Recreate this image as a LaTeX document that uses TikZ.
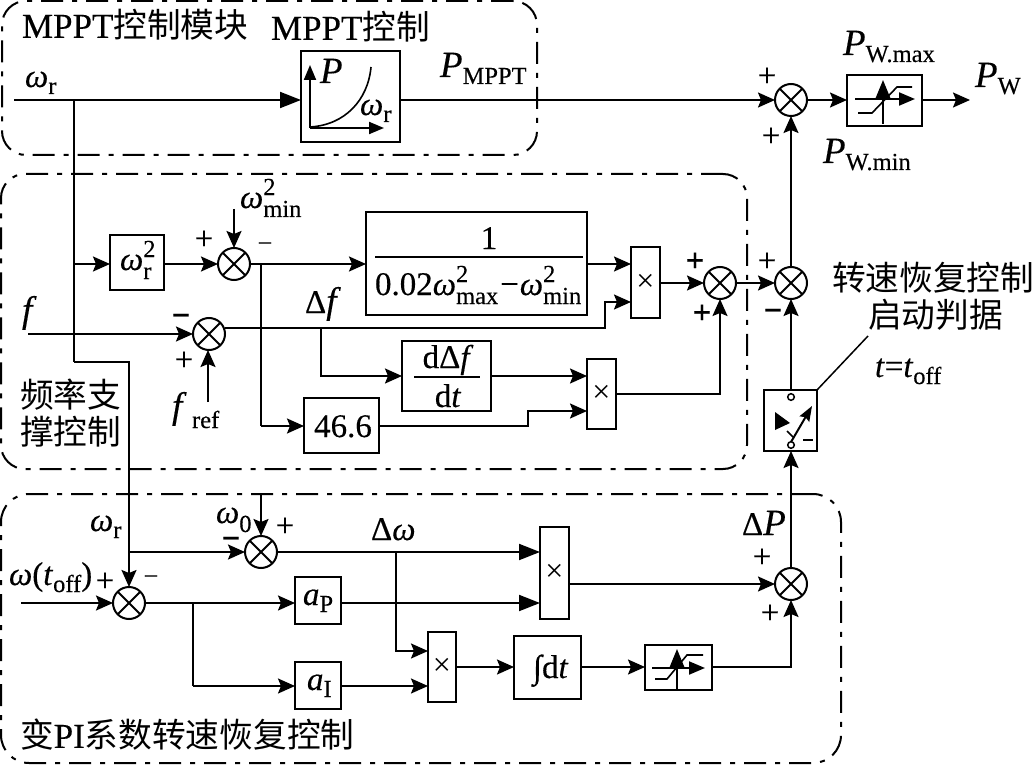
\documentclass[tikz,border=0pt]{standalone}
\usepackage{fontspec}
\setmainfont[FakeBold=0.3]{Liberation Serif}
\newfontfamily\cjk{Noto Sans CJK SC}
\newfontfamily\latn[FakeBold=0.3]{Liberation Serif}
\newfontfamily\plainserif{Liberation Serif}
\usetikzlibrary{arrows.meta,calc}
\newcommand\subsz{\fontsize{24.5}{24.5}\selectfont}
\newcommand\lowr[1]{\raisebox{-7pt}{\subsz #1}}
\newcommand\lowrup[2]{\rlap{\raisebox{13pt}{\subsz #1}}\raisebox{-9pt}{\subsz #2}}
\newcommand\omg{\textit{ω}}
\newcommand\Pv{{\fontsize{37}{37}\selectfont\textit{P}}}
\newcommand\fv{{\fontsize{37}{37}\selectfont\textit{f}}}
\newcommand\capsz[1]{{\fontsize{35}{35}\selectfont\latn #1}}
% block given by its corners
\newcommand\blk[6][]{%
  \pgfmathsetmacro\bw{#5-#3}\pgfmathsetmacro\bh{#6-#4}%
  \pgfmathsetmacro\bx{(#3+#5)/2}\pgfmathsetmacro\by{(#4+#6)/2}%
  \node[blockbox,minimum width=\bw pt,minimum height=\bh pt,#1] (#2) at (\bx,\by) {};}
\newcommand\txtat[4]{\node[txtbase] (#1) at (#2,#3) {#4};}
\newcommand\signat[4]{\node[signmark] (#1) at (#2,#3) {#4};}
\tikzset{
  x=1pt,y=-1pt,
  every node/.style={font=\fontsize{33}{33}\selectfont,inner sep=0pt,outer sep=0pt},
  blockbox/.style={draw,line width=2pt,rectangle},
  txtbase/.style={anchor=base west},
  signmark/.style={anchor=center},
  cjkline/.style={anchor=west,font=\fontsize{33.7}{33.7}\selectfont\cjk},
  timesbox/.style={font=\fontsize{32}{32}\selectfont\plainserif},
  region/.style={line width=2pt,dash pattern=on 22pt off 9pt on 5pt off 9pt},
  wire/.style={line width=2pt},
  flow/.style={wire,-{Stealth[length=17pt,width=15pt,inset=3pt]}},
  flowB/.style={wire,-{Stealth[length=21pt,width=16pt,inset=0pt]}},
  sumj/.style={circle,draw,line width=2pt,minimum size=32pt,
    path picture={\draw[line width=2pt]
      (path picture bounding box.north west)--(path picture bounding box.south east)
      (path picture bounding box.north east)--(path picture bounding box.south west);}},
}
\begin{document}
\begin{tikzpicture}
\useasboundingbox (0,0) rectangle (1035,767);

% dash-dotted regions
\blk[region,rounded corners=24pt]{regMppt}{2}{1}{537}{155}
\blk[region,rounded corners=24pt]{regFreq}{1}{174}{747}{469}
\blk[region,rounded corners=28pt]{regPi}{1}{494}{841}{763}

% blocks
\blk{curve}{301}{51}{400}{142}
\blk{limTop}{847}{75}{922}{126}
\blk{sq}{110}{235}{164}{290}
\blk{gain}{366}{212}{587}{315}
\blk{mulA}{631}{247}{660}{318}
\blk{deriv}{402}{341}{491}{411}
\blk{mulB}{587}{359}{616}{429}
\blk{coef}{304}{398}{379}{453}
\blk{switch}{764}{390}{817}{451}
\blk{mulC}{540}{527}{569}{619}
\blk{kp}{295}{577}{341}{624}
\blk{ki}{295}{662}{341}{709}
\blk{mulD}{428}{632}{456}{702}
\blk{integ}{514}{636}{581}{699}
\blk{limLow}{645}{645}{712}{690}

% summing junctions
\node[sumj] (sOut) at (791,100) {};
\node[sumj] (sErr) at (234,264) {};
\node[sumj] (sF) at (209,334) {};
\node[sumj] (sFreq) at (720,283) {};
\node[sumj] (sMid) at (791,283) {};
\node[sumj] (sW) at (261,552) {};
\node[sumj] (sTrk) at (129,603) {};
\node[sumj] (sDp) at (791,584) {};

% free ends and branch points
\coordinate (inW) at (14,100);
\coordinate (jW) at (74,100);
\coordinate (jTurn) at (74,362);
\coordinate (jSq) at (74,264);
\coordinate (jR) at (129,552);
\coordinate (outW) at (970,100);
\coordinate (minIn) at (234,209);
\coordinate (jMin) at (261,264);
\coordinate (jCoef) at (261,426);
\coordinate (inF) at (28,334);
\coordinate (fRef) at (208,402);
\coordinate (dfStart) at (225,328);
\coordinate (dfElbow) at (605,328);
\coordinate (dfTop) at (605,302);
\coordinate (jDf) at (321,328);
\coordinate (jDfLow) at (321,376);
\coordinate (cfElbow) at (528,426);
\coordinate (cfTop) at (528,411);
\coordinate (w0In) at (261,495);
\coordinate (inToff) at (21,603);
\coordinate (jTrk) at (193,603);
\coordinate (jKi) at (193,686);
\coordinate (jDw) at (396,552);
\coordinate (jDwLow) at (396,651);
\coordinate (intCorner) at (791,667);
\coordinate (leaderEnd) at (868,336);
\coordinate (coefBase) at (343,437);

% connectors of the speed path and the MPPT path
\draw[flowB] (inW) -- (inW -| curve.west);
\draw[flow] (curve.east |- inW) -- (sOut.west);
\draw[flow] (sOut.east) -- (limTop.west |- sOut);
\draw[flow] (limTop.east |- sOut) -- (outW);
\draw[wire] (jW) -- (jTurn);
\draw[flow] (jTurn) -- (jTurn -| sTrk) -- (sTrk.north);
\draw[flow] (sMid.north) -- (sOut.south);

% frequency support
\draw[flow] (jSq) -- (jSq -| sq.west);
\draw[flow] (sq.east |- jSq) -- (sErr.west);
\draw[flow] (minIn) -- (sErr.north);
\draw[flow] (sErr.east) -- (sErr -| gain.west);
\draw[wire] (jMin) -- (jCoef);
\draw[flow] (jCoef) -- (jCoef -| coef.west);
\draw[flow] (inF) -- (sF.west);
\draw[flow] (fRef) -- (fRef |- sF.south);
\draw[flow] (dfStart) -- (dfElbow) -- (dfTop) -- (dfTop -| mulA.west);
\draw[flow] (gain.east |- sErr) -- (sErr -| mulA.west);
\draw[flow] (jDf) -- (jDfLow) -- (jDfLow -| deriv.west);
\draw[flow] (deriv.east |- jDfLow) -- (jDfLow -| mulB.west);
\draw[flow] (jCoef -| coef.east) -- (cfElbow) -- (cfTop) -- (cfTop -| mulB.west);
\draw[flow] (mulA.east |- sFreq) -- (sFreq.west);
\draw[flow] (sFreq.east) -- (sMid.west);
\draw[flow] (mulB.east) -- (mulB.east -| sFreq) -- (sFreq.south);
\draw[flow] (switch.north -| sMid) -- (sMid.south);
\draw[flow] (sDp.north) -- (switch.south -| sDp);
\draw[wire,line width=1.5pt] (switch.north east) -- (leaderEnd);

% variable PI speed recovery
\draw[flow] (jR) -- (sW.west);
\draw[flow] (w0In) -- (sW.north);
\draw[flowB] (sW.east) -- (sW -| mulC.west);
\draw[flow] (inToff) -- (sTrk.west);
\draw[flow] (sTrk.east) -- (kp.west |- sTrk);
\draw[flowB] (kp.east |- sTrk) -- (sTrk -| mulC.west);
\draw[wire] (jTrk) -- (jKi);
\draw[flow] (jKi) -- (jKi -| ki.west);
\draw[flow] (ki.east |- jKi) -- (jKi -| mulD.west);
\draw[flow] (jDw) -- (jDwLow) -- (jDwLow -| mulD.west);
\draw[flow] (mulD.east |- intCorner) -- (intCorner -| integ.west);
\draw[flow] (integ.east |- intCorner) -- (intCorner -| limLow.west);
\draw[flow] (limLow.east |- intCorner) -- (intCorner) -- (sDp.south);
\draw[flow] (sDp -| mulC.east) -- (sDp.west);

% power curve icon
\draw[wire,-{Stealth[length=15pt,width=12pt,inset=0pt]}] (310,128) -- (310,65);
\draw[wire,-{Stealth[length=15pt,width=12pt,inset=0pt]}] (310,128) -- (384,128);
\draw[line width=1.6pt] (310,127) .. controls (345,125) and (368,100) .. (371,67);

% limiter icons
\draw[wire,-{Stealth[length=16pt,width=13pt,inset=0pt]}] (855,99) -- (915,99);
\draw[wire,-{Stealth[length=19pt,width=15pt,inset=0pt]}] (883,124) -- (883,80);
\draw[line width=1.6pt] (858,113) -- (872,113) -- (897,87) -- (912,87);
\draw[wire,-{Stealth[length=16pt,width=13pt,inset=0pt]}] (652,668) -- (705,668);
\draw[wire,-{Stealth[length=19pt,width=15pt,inset=0pt]}] (677,690) -- (677,649);
\draw[line width=1.6pt] (655,679) -- (667,679) -- (687,655) -- (703,655);

% switch icon
\draw[line width=1.5pt,fill=white] (791,397) circle (3.3);
\draw[line width=1.5pt,fill=white] (791,445) circle (3.3);
\fill (775,412) -- (790,423) -- (775,430) -- cycle;
\draw[wire,-{Stealth[length=15pt,width=11pt,inset=2pt]}] (791,442) -- (812,406);
\draw[line width=1.5pt] (787,431) -- (793,437);
\draw[line width=1.5pt] (803,440) -- (813,440);

% fraction bars
\draw[wire] (375,257) -- (583,257);
\draw[wire] (414,377) -- (480,377);

% multiplier marks
\node[timesbox] (tA) at (mulA) {×};
\node[timesbox] (tB) at (mulB) {×};
\node[timesbox] (tC) at (mulC) {×};
\node[timesbox] (tD) at (mulD) {×};

% Chinese captions
\node[cjkline] (capA) at (22,25) {\capsz{MPPT}控制模块};
\node[cjkline] (capB) at (271,27) {\capsz{MPPT}控制};
\node[cjkline] (capC) at (20,395) {频率支};
\node[cjkline] (capD) at (20,432) {撑控制};
\node[cjkline] (capE) at (832,278) {转速恢复控制};
\node[cjkline] (capF) at (868,315) {启动判据};
\node[cjkline] (capG) at (20,735) {变\capsz{PI}系数转速恢复控制};

% signal labels
\txtat{lWr}{25}{87}{\omg\lowr{r}}
\txtat{lPm}{440}{77}{\Pv\lowr{MPPT}}
\txtat{lCp}{320}{83}{\Pv}
\txtat{lCw}{360}{115}{\omg\lowr{r}}
\txtat{lPmax}{843}{55}{\Pv\lowr{W.max}}
\txtat{lPw}{975}{87}{\Pv\lowr{W}}
\txtat{lPmin}{823}{163}{\Pv\lowr{W.min}}
\txtat{lWmin}{240}{208}{\omg\lowrup{2}{min}}
\txtat{lSq}{120}{270}{\omg\lowrup{2}{r}}
\txtat{lF}{22}{322}{\fv}
\txtat{lFr}{172}{418}{\fv\,\raisebox{-10pt}{\subsz ref}}
\txtat{lDf}{305}{313}{Δ\fv}
\node[anchor=base] (lDdf) at (448,368) {dΔ\textit{f}};
\node[anchor=base] (lDt) at (448,407) {d\textit{t}};
\node[anchor=base] (lOne) at (489,249) {1};
\txtat{lDen}{375}{295}{0.02\omg\lowrup{2}{max}\hspace{2pt}−\hspace{1pt}\omg\lowrup{2}{min}}
\node[anchor=base] (lCoef) at (coefBase) {46.6};
\txtat{lTon}{875}{377}{\textit{t}=\textit{t}\lowr{off}}
\txtat{lWrb}{90}{531}{\omg\lowr{r}}
\txtat{lWo}{216}{523}{\omg\raisebox{-9pt}{\subsz 0}}
\txtat{lDw}{371}{540}{Δ\omg}
\txtat{lToff}{9}{585}{\omg(\textit{t}\lowr{off})}
\txtat{lAp}{303}{605}{\textit{a}\lowr{P}}
\txtat{lAi}{307}{690}{\textit{a}\lowr{I}}
\txtat{lDp}{742}{535}{Δ\Pv}
\txtat{lInt}{533}{678}{∫d\textit{t}}

% signs at the junctions
\signat{m1}{767}{77}{+}
\signat{m2}{771}{137}{+}
\signat{m3}{204}{240}{+}
\signat{m4}{265}{247}{\fontsize{26}{26}\selectfont −}
\signat{m5}{181}{320}{\textbf{−}}
\signat{m6}{184}{361}{+}
\signat{m7}{695}{262}{\textbf{+}}
\signat{m8}{702}{314}{\textbf{+}}
\signat{m9}{767}{262}{+}
\signat{m10}{773}{315}{\textbf{−}}
\signat{m11}{285}{527}{+}
\signat{m12}{231}{543}{\textbf{−}}
\signat{m13}{105}{582}{+}
\signat{m14}{151}{580}{\fontsize{26}{26}\selectfont −}
\signat{m15}{762}{558}{+}
\signat{m16}{770}{614}{+}
\end{tikzpicture}
\end{document}
